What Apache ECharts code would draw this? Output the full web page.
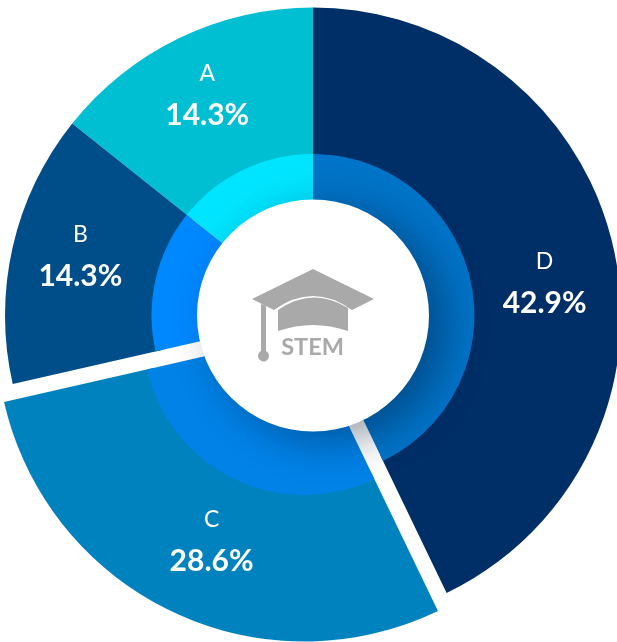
<!DOCTYPE html>
<html>
<head>
<meta charset="utf-8">
<style>
  html, body { margin: 0; padding: 0; background: #fff; }
  #main { width: 617px; height: 642px; }
</style>
<script src="https://cdn.jsdelivr.net/npm/echarts@6/dist/echarts.min.js"></script>
</head>
<body>
<div id="main"></div>
<script>
const categories = ['A', 'B', 'C', 'D'];
const shares = [14.3, 14.3, 28.6, 42.9];
const explodedCategory = 'C';

const outerColors = ['#00bfd2', '#004e89', '#0082bf', '#002e66'];
const innerColors = ['#00e5ff', '#0088ff', '#0082e6', '#0074c8'];
// nudges the labels off the ring's mid radius, as in the picture
const labelOffsets = [[-4, -10], [-4, -8], [9, -4], [3, 19]];

const center = [313, 315.5];

echarts.graphic.registerShape('capIcon', echarts.graphic.extendPath(
  'M313 269 L374 299 L352 310 Q313 282 274 310 L262 304 L252 299 Z M278 310 Q313 286 348 308 L348 331 Q313 319 278 331 Z M261 304 L266 306 L266 351 A5.5 5.5 0 1 1 261 351 Z',
  {}
));

const chart = echarts.init(document.getElementById('main'));

function sliceData(colors, withLabel) {
  return categories.map((name, i) => {
    const item = {
      name,
      value: shares[i],
      selected: name === explodedCategory,
      itemStyle: { color: colors[i] }
    };
    if (withLabel) {
      item.label = { offset: labelOffsets[i] };
      // the selected slice reads its label from the select state
      item.select = { label: { offset: labelOffsets[i] } };
    }
    return item;
  });
}

const ringBase = {
  type: 'pie',
  center,
  startAngle: 90,
  clockwise: false,
  selectedMode: 'single',
  selectedOffset: 20,
  silent: true,
  animation: false,
  labelLine: { show: false }
};

chart.setOption({
  animation: false,
  series: [
    {
      ...ringBase,
      z: 2,
      radius: [155, 308],
      data: sliceData(outerColors, true),
      label: {
        position: 'inside',
        fontFamily: 'Lato',
        color: '#fff',
        formatter: '{n|{b}}\n{p|{c}%}',
        rich: {
          n: { fontFamily: 'Lato', fontSize: 23, color: '#fff', lineHeight: 42 },
          p: { fontFamily: 'Lato', fontSize: 30, fontWeight: 'bold', color: '#fff', lineHeight: 42 }
        }
      }
    },
    {
      ...ringBase,
      z: 3,
      radius: [60, 161.5],
      data: sliceData(innerColors, false),
      label: { show: false }
    },
    {
      type: 'pie',
      z: 4,
      center,
      radius: [0, 116],
      silent: true,
      animation: false,
      label: { show: false },
      labelLine: { show: false },
      data: [{
        value: 1,
        itemStyle: {
          color: '#fff',
          shadowBlur: 40,
          shadowColor: 'rgba(0, 20, 50, 0.4)',
          shadowOffsetX: 18,
          shadowOffsetY: 10
        }
      }]
    }
  ],
  graphic: [
    {
      type: 'capIcon',
      z: 100,
      style: { fill: '#a9a9a9' }
    },
    {
      type: 'text',
      z: 100,
      x: 312.5,
      y: 347,
      style: {
        text: 'STEM',
        fontFamily: 'Lato',
        fontSize: 23.5,
        fontWeight: 'bold',
        fill: '#a9a9a9',
        textAlign: 'center',
        textVerticalAlign: 'middle'
      }
    }
  ]
});
</script>
</body>
</html>
